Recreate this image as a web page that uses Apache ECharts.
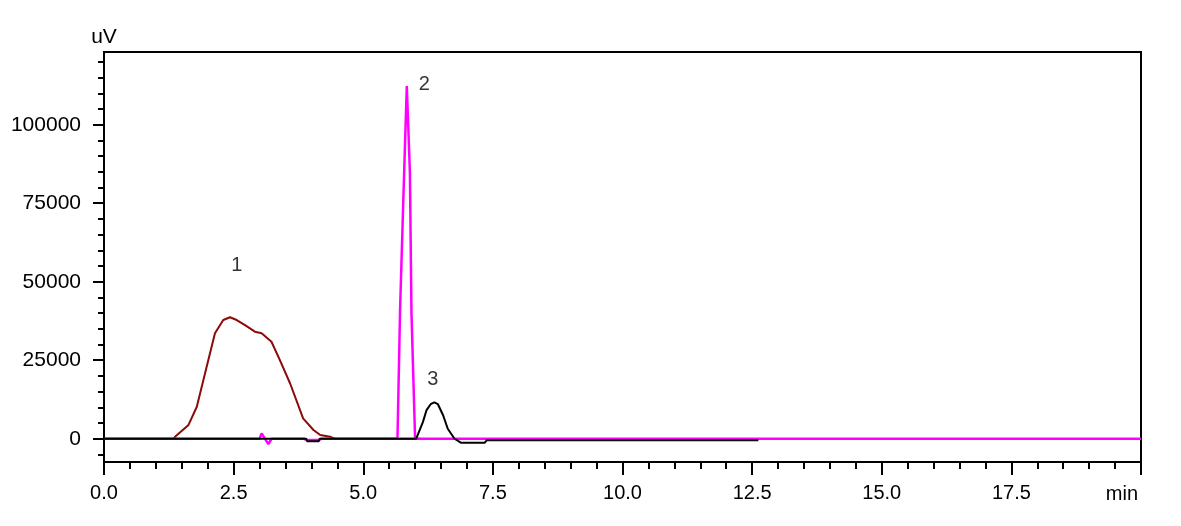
<!DOCTYPE html>
<html>
<head>
<meta charset="utf-8">
<script src="https://cdn.jsdelivr.net/npm/echarts@6/dist/echarts.min.js"></script>
<style>
  html, body { margin: 0; padding: 0; background: #fff; }
  #chart { width: 1181px; height: 526px; }
</style>
</head>
<body>
<div id="chart"></div>
<script>
// ---- data (time in min, signal in uV) ----
const redTimes   = [0, 1.35, 1.37, 1.63, 1.79, 1.98, 2.14, 2.30, 2.43, 2.56, 2.72, 2.91, 3.04, 3.23, 3.39, 3.59, 3.84, 4.04, 4.17, 4.36, 4.45, 6.10];
const redValues  = [0, 0,    640,  4400, 10200, 22900, 33600, 37800, 38700, 37800, 36200, 34100, 33600, 30900, 25100, 17600, 6500, 2800, 1200, 640, 0, 0];

const magTimes   = [0, 3.00, 3.04, 3.17, 3.23, 3.85, 3.92, 4.13, 4.20, 5.66, 5.71, 5.79, 5.84, 5.90, 5.93, 6.00, 20];
const magValues  = [0, 0,    1700, -1700, 0,   0,    -400, -400, 0,    0,    41000, 85600, 112300, 84600, 40000, 0, 0];

const blkTimes   = [0, 3.90, 3.92, 4.14, 4.16, 6.02, 6.15, 6.22, 6.30, 6.37, 6.44, 6.54, 6.63, 6.76, 6.89, 7.34, 7.38, 12.62];
const blkValues  = [0, 0,    -830, -830, 0,    0,    5300, 9100, 11000, 11600, 11000, 7500, 3200, 0, -1300, -1300, -500, -500];

const peakNames  = ['1', '2', '3'];
const peakTimes  = [2.56, 6.18, 6.34];
const peakLevels = [55300, 112650, 18850];

const yMajorTicks = [0, 25000, 50000, 75000, 100000];
const yMinorTicks = [-5000, 5000, 10000, 15000, 20000, 30000, 35000, 40000, 45000, 55000, 60000, 65000, 70000, 80000, 85000, 90000, 95000, 105000, 110000, 115000, 120000];

const xMin = 0, xMax = 20, xStep = 2.5;
const yMin = -7400, yMax = 123150;

// ---- build ----
const zip = (a, b) => a.map((v, i) => [v, b[i]]);
const FONT = 'Liberation Sans, Arial, sans-serif';
const chart = echarts.init(document.getElementById('chart'), null, { renderer: 'canvas' });

chart.setOption({
  animation: false,
  backgroundColor: '#fff',
  grid: { left: 104, right: 40, top: 52, bottom: 64, show: true, borderColor: '#000', borderWidth: 2, backgroundColor: 'transparent' },
  xAxis: {
    type: 'value', min: xMin, max: xMax, interval: xStep,
    name: 'min', nameLocation: 'end', nameGap: -3,
    nameTextStyle: { color: '#000', fontSize: 20, fontFamily: FONT, align: 'right', verticalAlign: 'top', padding: [22, 0, 0, 0] },
    axisLine: { show: true, onZero: false, lineStyle: { color: '#000', width: 2 } },
    axisTick: { show: true, length: 13, lineStyle: { color: '#000', width: 2 } },
    minorTick: { show: true, splitNumber: 5, length: 7, lineStyle: { color: '#000', width: 2 } },
    axisLabel: { color: '#000', fontSize: 20, fontFamily: FONT, margin: 21, showMaxLabel: false,
                 formatter: v => v.toFixed(1) },
    splitLine: { show: false }, minorSplitLine: { show: false }
  },
  yAxis: [{
    type: 'value', min: yMin, max: yMax, position: 'left',
    name: 'uV', nameLocation: 'end', nameGap: 4,
    nameTextStyle: { color: '#000', fontSize: 21, fontFamily: FONT },
    axisLine: { show: true, onZero: false, lineStyle: { color: '#000', width: 2 } },
    axisTick: { show: true, length: 11, customValues: yMajorTicks, lineStyle: { color: '#000', width: 2 } },
    axisLabel: { color: '#000', fontSize: 21, fontFamily: FONT, margin: 23, customValues: yMajorTicks,
                 formatter: v => String(v) },
    splitLine: { show: false }
  }, {
    type: 'value', min: yMin, max: yMax, position: 'left', offset: 0,
    axisLine: { show: false },
    axisTick: { show: true, length: 6, customValues: yMinorTicks, lineStyle: { color: '#000', width: 2 } },
    axisLabel: { show: false },
    splitLine: { show: false }
  }],
  series: [
    { type: 'line', name: 'red', data: zip(redTimes, redValues), showSymbol: false, symbol: 'none',
      lineStyle: { color: '#8b0a0a', width: 2 }, z: 2 },
    { type: 'line', name: 'magenta', data: zip(magTimes, magValues), showSymbol: false, symbol: 'none',
      lineStyle: { color: '#ff00ff', width: 2.5 }, z: 3 },
    { type: 'line', name: 'black', data: zip(blkTimes, blkValues), showSymbol: false, symbol: 'none',
      lineStyle: { color: '#000', width: 2 }, z: 4 },
    { type: 'scatter', name: 'labels', symbolSize: 0, z: 5,
      data: peakNames.map((n, i) => ({ name: n, value: [peakTimes[i], peakLevels[i]] })),
      label: { show: true, position: 'inside', formatter: p => p.name, color: '#000', fontSize: 20, fontFamily: FONT } }
  ]
});
</script>
</body>
</html>
